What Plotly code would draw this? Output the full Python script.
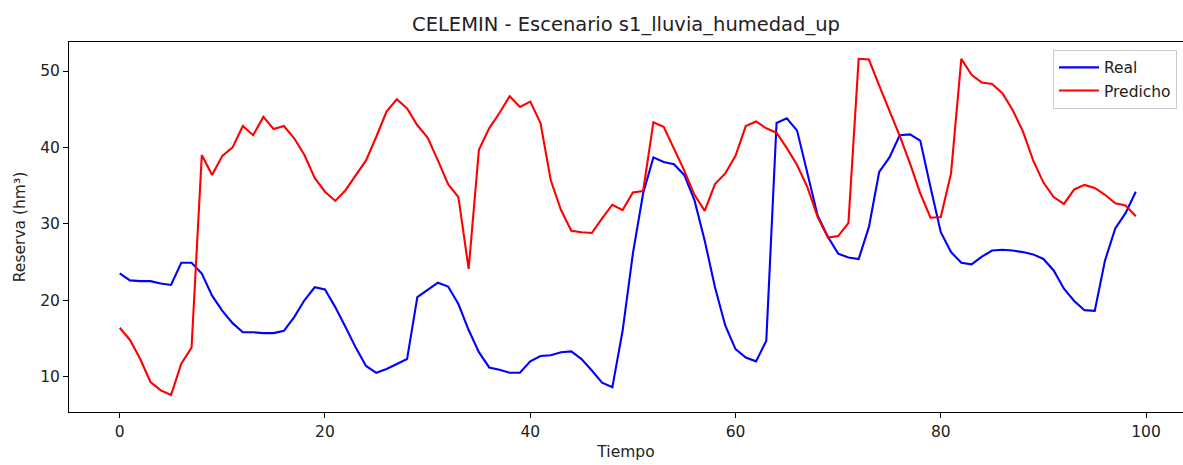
import plotly.graph_objects as go

tiempo = list(range(100))

real = [23.5, 22.6, 22.5, 22.5, 22.2, 22.0, 24.9, 24.9, 23.5, 20.6,
        18.6, 17.0, 15.8, 15.8, 15.7, 15.7, 16.0, 17.8, 20.0, 21.7,
        21.4, 19.1, 16.5, 13.8, 11.4, 10.5, 11.0, 11.7, 12.3, 20.4,
        21.4, 22.3, 21.8, 19.5, 16.1, 13.2, 11.2, 10.9, 10.5, 10.5,
        12.0, 12.7, 12.8, 13.2, 13.3, 12.3, 10.8, 9.2, 8.6, 16.0,
        26.1, 34.0, 38.7, 38.1, 37.8, 36.4, 33.1, 27.8, 21.7, 16.7,
        13.6, 12.5, 12.0, 14.7, 43.2, 43.8, 42.2, 36.8, 31.1, 28.3,
        26.1, 25.6, 25.4, 29.6, 36.8, 38.7, 41.6, 41.7, 40.9, 34.8,
        28.9, 26.3, 24.9, 24.7, 25.7, 26.5, 26.6, 26.5, 26.3, 26.0,
        25.4, 23.9, 21.5, 19.9, 18.7, 18.6, 25.2, 29.4, 31.4, 34.2]

predicho = [16.4, 14.8, 12.3, 9.3, 8.2, 7.6, 11.7, 13.8, 39.0, 36.4,
            38.9, 40.0, 42.8, 41.6, 44.0, 42.4, 42.8, 41.2, 39.0, 36.0,
            34.2, 33.0, 34.4, 36.4, 38.3, 41.4, 44.7, 46.3, 45.1, 42.9,
            41.3, 38.3, 35.2, 33.5, 24.1, 39.7, 42.5, 44.5, 46.7, 45.3,
            46.0, 43.2, 35.7, 31.8, 29.1, 28.9, 28.8, 30.7, 32.5, 31.8,
            34.1, 34.3, 43.3, 42.7, 39.9, 37.0, 33.8, 31.7, 35.2, 36.6,
            38.9, 42.8, 43.4, 42.5, 41.9, 39.9, 37.7, 34.8, 30.9, 28.2,
            28.4, 30.1, 51.6, 51.5, 48.1, 44.9, 41.5, 37.9, 34.0, 30.8,
            30.9, 36.6, 51.6, 49.5, 48.5, 48.3, 47.1, 44.9, 42.1, 38.3,
            35.4, 33.5, 32.6, 34.5, 35.1, 34.7, 33.8, 32.7, 32.4, 31.0]

x_ticks = [0, 20, 40, 60, 80, 100]
y_ticks = [10, 20, 30, 40, 50]

FONT = "DejaVu Sans"
TXT = "#222"

fig = go.Figure()
fig.add_trace(go.Scatter(x=tiempo, y=real, mode="lines", name="Real",
                         line=dict(color="#0000ff", width=2.1)))
fig.add_trace(go.Scatter(x=tiempo, y=predicho, mode="lines", name="Predicho",
                         line=dict(color="#ff0000", width=2.1)))

axis_common = dict(showline=True, linecolor="black", linewidth=1,
                   ticks="outside", ticklen=5, tickwidth=1, tickcolor="black",
                   showgrid=False, zeroline=False, automargin=False,
                   tickfont=dict(family=FONT, size=15.5, color=TXT))

fig.update_layout(
    width=1183, height=465,
    margin=dict(l=69, r=0, t=42, b=53, pad=0, autoexpand=False),
    paper_bgcolor="white", plot_bgcolor="white",
    title=dict(text="CELEMIN - Escenario s1_lluvia_humedad_up",
               x=626 / 1183, xanchor="center", y=1 - 24 / 465, yanchor="middle",
               font=dict(family=FONT, size=19.5, color=TXT)),
    xaxis=dict(range=[-4.94, 103.6], tickvals=x_ticks, mirror=True,
               title=dict(text="Tiempo", font=dict(family=FONT, size=15.5, color=TXT), standoff=6),
               **axis_common),
    yaxis=dict(range=[5.37, 53.8], tickvals=y_ticks, mirror=False,
               title=dict(text="Reserva (hm³)", font=dict(family=FONT, size=15.5, color=TXT), standoff=10),
               **axis_common),
    legend=dict(x=0.9946, xanchor="right", y=0.979, yanchor="top",
                bgcolor="rgba(255,255,255,0.8)", bordercolor="#cccccc", borderwidth=1,
                font=dict(family=FONT, size=15.5, color=TXT),
                tracegroupgap=0, itemwidth=40),
    showlegend=True,
)

fig.write_html("out.html", config={"displayModeBar": False},
               post_script="document.body.style.margin='0';document.body.style.overflow='hidden';")
